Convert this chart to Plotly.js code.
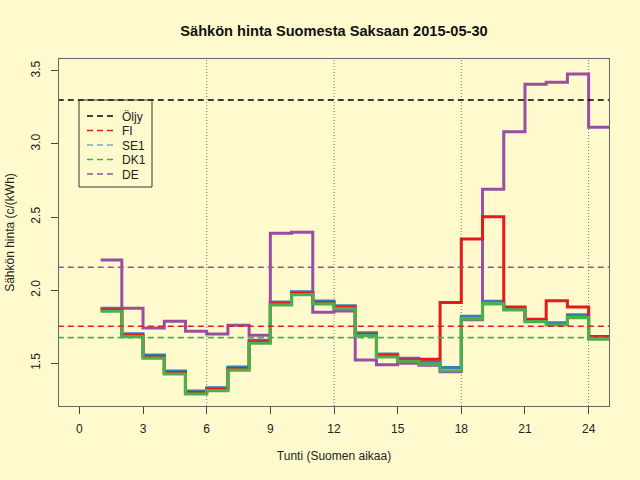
<!DOCTYPE html>
<html>
<head>
<meta charset="utf-8">
<script src="https://cdn.plot.ly/plotly-3.0.1.min.js"></script>
<style>html,body{margin:0;padding:0;background:#FFFACD;}#chart{width:640px;height:480px;}</style>
</head>
<body>
<div id="chart"></div>
<script>
// ---- data ----
const hours = [1,2,3,4,5,6,7,8,9,10,11,12,13,14,15,16,17,18,19,20,21,22,23,24];
const fi  = [1.866,1.692,1.546,1.437,1.300,1.323,1.464,1.647,1.909,1.979,1.916,1.884,1.699,1.553,1.524,1.527,1.915,2.350,2.503,1.885,1.801,1.928,1.885,1.684];
const se1 = [1.876,1.702,1.556,1.447,1.310,1.333,1.474,1.657,1.919,1.989,1.926,1.894,1.709,1.563,1.534,1.510,1.472,1.821,1.924,1.878,1.795,1.778,1.832,1.680];
const dk1 = [1.856,1.682,1.536,1.427,1.290,1.313,1.454,1.637,1.899,1.969,1.906,1.874,1.689,1.543,1.514,1.495,1.449,1.803,1.906,1.865,1.785,1.762,1.812,1.666];
const de  = [2.207,1.876,1.741,1.787,1.719,1.700,1.760,1.692,2.389,2.396,1.849,1.858,1.523,1.490,1.500,1.486,1.442,1.797,2.690,3.084,3.408,3.422,3.479,3.114];
const refNames  = ["Öljy","FI","SE1","DK1","DE"];
const refValues = [3.301, 1.753, 1.676, 1.676, 2.157];
const tickHours = [0,3,6,9,12,15,18,21,24];
const gridHours = [6,12,18,24];
const yTicks = [1.5,2.0,2.5,3.0,3.5];

// ---- styling ----
const colors = {"Öljy":"#000000", FI:"#E41A1C", SE1:"#377EB8", DK1:"#4DAF4A", DE:"#984EA3"};
const xRange = [-0.96, 24.96];
const yRange = [1.208, 3.581];
const bg = "#FFFACD";
// plot area in pixels (for legend placement)
const plotL = 59, plotR = 609, plotT = 59, plotB = 406;
const pw = plotR - plotL, ph = plotB - plotT;
const legendBox = {l:79, r:152, t:100, b:187};
const legendItemCenters = [116, 130.5, 145, 159.5, 174];

function stepX(){ return hours.concat([hours[hours.length-1]+1]); }
function stepY(v){ return v.concat([v[v.length-1]]); }
function stepTrace(name, vals, width){
  return {x: stepX(), y: stepY(vals), type:"scatter", mode:"lines",
    line:{shape:"hv", color:colors[name], width:width}, showlegend:false, hoverinfo:"skip", name:name};
}
const traces = [
  stepTrace("DE", de, 3),
  stepTrace("SE1", se1, 3),
  stepTrace("FI", fi, 3),
  stepTrace("DK1", dk1, 3.2)
];
const font = {family:"Liberation Sans, Arial, sans-serif", size:12, color:"#222222"};

const layout = {
  width:640, height:480,
  paper_bgcolor:bg, plot_bgcolor:bg,
  font:font,
  margin:{l:plotL, r:640-plotR, t:plotT, b:480-plotB},
  title:{text:"<b>Sähkön hinta Suomesta Saksaan 2015-05-30</b>", font:{family:font.family, size:14.6, color:"#111"},
    x:0.5, xanchor:"center", xref:"paper", y:1-31/480, yanchor:"middle", yref:"container"},
  xaxis:{range:xRange, tickvals:tickHours, ticktext:tickHours.map(String), ticks:"outside", ticklen:7,
    tickcolor:"#444", showgrid:false, zeroline:false, showline:true, mirror:true, linecolor:"#666", linewidth:1,
    ticklabelstandoff:5,
    title:{text:"Tunti (Suomen aikaa)", font:{family:font.family, size:12, color:"#222"}, standoff:16}},
  yaxis:{range:yRange, tickvals:yTicks, ticktext:yTicks.map(function(v){return v.toFixed(1);}), ticks:"outside", ticklen:7,
    tickcolor:"#444", tickangle:-90, showgrid:false, zeroline:false, showline:true, mirror:true, linecolor:"#666", linewidth:1,
    ticklabelstandoff:6,
    title:{text:"Sähkön hinta (c/(kWh)", font:{family:font.family, size:12, color:"#222"}, standoff:12}},
  shapes:[],
  showlegend:true
};

refNames.forEach(function(n,i){
  const lg = i === 0 ? "legend" : "legend" + (i+1);
  traces.push({x:[xRange[0]-1, xRange[1]+1], y:[refValues[i], refValues[i]], type:"scatter", mode:"lines",
    line:{color:colors[n], width:(n === "SE1" ? 1.2 : 1.5), dash:"6px,4px"}, name:n, legend:lg, hoverinfo:"skip"});
  layout[lg] = {x:(legendBox.l + 3 - plotL)/pw, y:(plotB - legendItemCenters[i])/ph, xanchor:"left", yanchor:"middle",
    bgcolor:"rgba(0,0,0,0)", borderwidth:0, font:{family:font.family, size:12, color:"#222"}, itemwidth:30};
});

layout.shapes = gridHours.map(function(h){
  return {type:"line", xref:"x", yref:"paper", x0:h, x1:h, y0:0, y1:1, layer:"below",
    line:{color:"#777777", width:1, dash:"1px,2px"}};
});
layout.shapes.push({type:"rect", xref:"paper", yref:"paper",
  x0:(legendBox.l - plotL)/pw, x1:(legendBox.r - plotL)/pw,
  y0:(plotB - legendBox.b)/ph, y1:(plotB - legendBox.t)/ph,
  line:{color:"#333", width:1}, fillcolor:"rgba(0,0,0,0)", layer:"above"});

Plotly.newPlot("chart", traces, layout, {staticPlot:true, displayModeBar:false});
</script>
</body>
</html>
